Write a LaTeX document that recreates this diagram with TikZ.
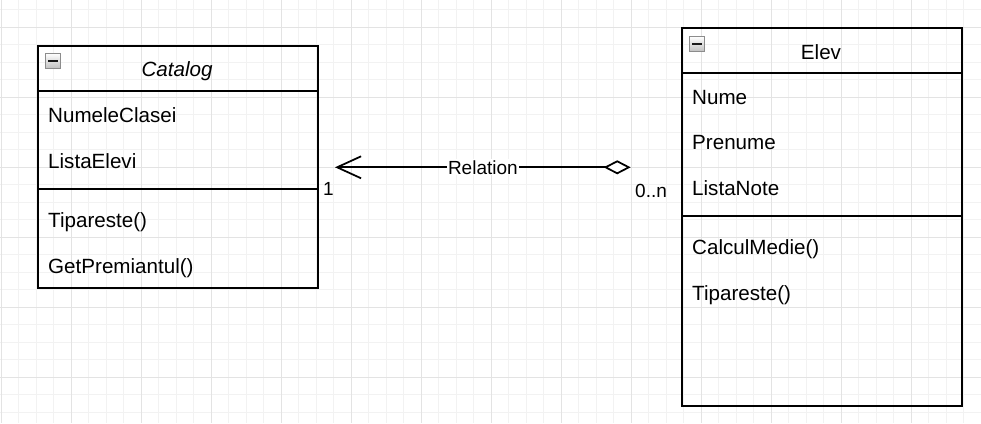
\documentclass[tikz,border=0pt]{standalone}
\usepackage{fontspec}
\setmainfont{Liberation Sans}
\usetikzlibrary{arrows.meta,calc}
\definecolor{gridminor}{HTML}{F2F2F2}
\definecolor{gridmajor}{HTML}{E3E3E3}
\definecolor{iconborder}{HTML}{8C8C8C}
\tikzset{
  umlbox/.style={draw=black, line width=1.75pt, anchor=north west, inner sep=0pt, minimum width=280pt},
  member/.style={anchor=base west, inner sep=0pt, font=\fontsize{20.6}{24}\selectfont},
  header/.style={anchor=base, inner sep=0pt, font=\fontsize{20.6}{24}\selectfont},
  endlabel/.style={anchor=base west, inner sep=0pt, font=\fontsize{19}{22}\selectfont},
  rellabel/.style={fill=white, inner sep=1pt, font=\fontsize{19}{22}\selectfont},
  sepline/.style={draw=black, line width=1.9pt},
  conn/.style={draw=black, line width=1.75pt},
  icon/.style={draw=iconborder, line width=1.2pt, minimum size=15.5pt, inner sep=0pt,
    top color=white, bottom color=black!25,
    path picture={\draw[line width=2.4pt, black!90] ([xshift=-4.8pt]path picture bounding box.center) -- ([xshift=4.8pt]path picture bounding box.center);}}
}
\begin{document}
\begin{tikzpicture}[x=1pt,y=-1pt]
\useasboundingbox (0,0) rectangle (981,423);
\fill[white] (0,0) rectangle (981,423);
% grid
\foreach \i in {0,...,55} {\pgfmathsetmacro\xx{1.3+17.5*\i}\draw[gridminor, line width=1pt] (\xx,0) -- (\xx,423);}
\foreach \i in {0,...,23} {\pgfmathsetmacro\yy{9.8+17.5*\i}\draw[gridminor, line width=1pt] (0,\yy) -- (981,\yy);}
\foreach \i in {0,...,13} {\pgfmathsetmacro\xx{1.3+70*\i}\draw[gridmajor, line width=1pt] (\xx,0) -- (\xx,423);}
\foreach \i in {0,...,5} {\pgfmathsetmacro\yy{27.3+70*\i}\draw[gridmajor, line width=1pt] (0,\yy) -- (981,\yy);}

% Catalog class
\node[umlbox, minimum height=242pt] (catalog) at (37,45) {};
\draw[sepline] ($(catalog.north west)+(0,46)$) -- ($(catalog.north east)+(0,46)$);
\draw[sepline] ($(catalog.north west)+(0,144)$) -- ($(catalog.north east)+(0,144)$);
\node[icon] (catalogicon) at (53,61) {};
\node[header, font=\fontsize{20.6}{24}\selectfont\itshape] (catalogname) at (177,76) {Catalog};
\node[member] (cattr1) at (48,122.5) {NumeleClasei};
\node[member] (cattr2) at (48,168) {ListaElevi};
\node[member] (cop1) at (48,227.5) {Tipareste()};
\node[member] (cop2) at (48,273) {GetPremiantul()};

% Elev class
\node[umlbox, minimum height=377.7pt] (elev) at (681,27.3) {};
\draw[sepline] ($(elev.north west)+(0,45.5)$) -- ($(elev.north east)+(0,45.5)$);
\draw[sepline] ($(elev.north west)+(0,189)$) -- ($(elev.north east)+(0,189)$);
\node[icon] (elevicon) at (697,44) {};
\node[header] (elevname) at (821,59) {Elev};
\node[member] (eattr1) at (692,104.3) {Nume};
\node[member] (eattr2) at (692,149.8) {Prenume};
\node[member] (eattr3) at (692,195.3) {ListaNote};
\node[member] (eop1) at (692,254.8) {CalculMedie()};
\node[member] (eop2) at (692,300.3) {Tipareste()};

% Relation
\coordinate (relA) at (335,167.3);
\coordinate (relB) at (630.7,167.3);
\draw[conn, {Straight Barb[length=24pt,width=22pt]}-{Diamond[length=27pt,width=14pt,fill=white]}] (relA) -- node[rellabel] (relname) {Relation} (relB);
\node[endlabel] (mult1) at (323,195.7) {1};
\node[endlabel] (multn) at (635,197.3) {0..n};
\end{tikzpicture}
\end{document}
